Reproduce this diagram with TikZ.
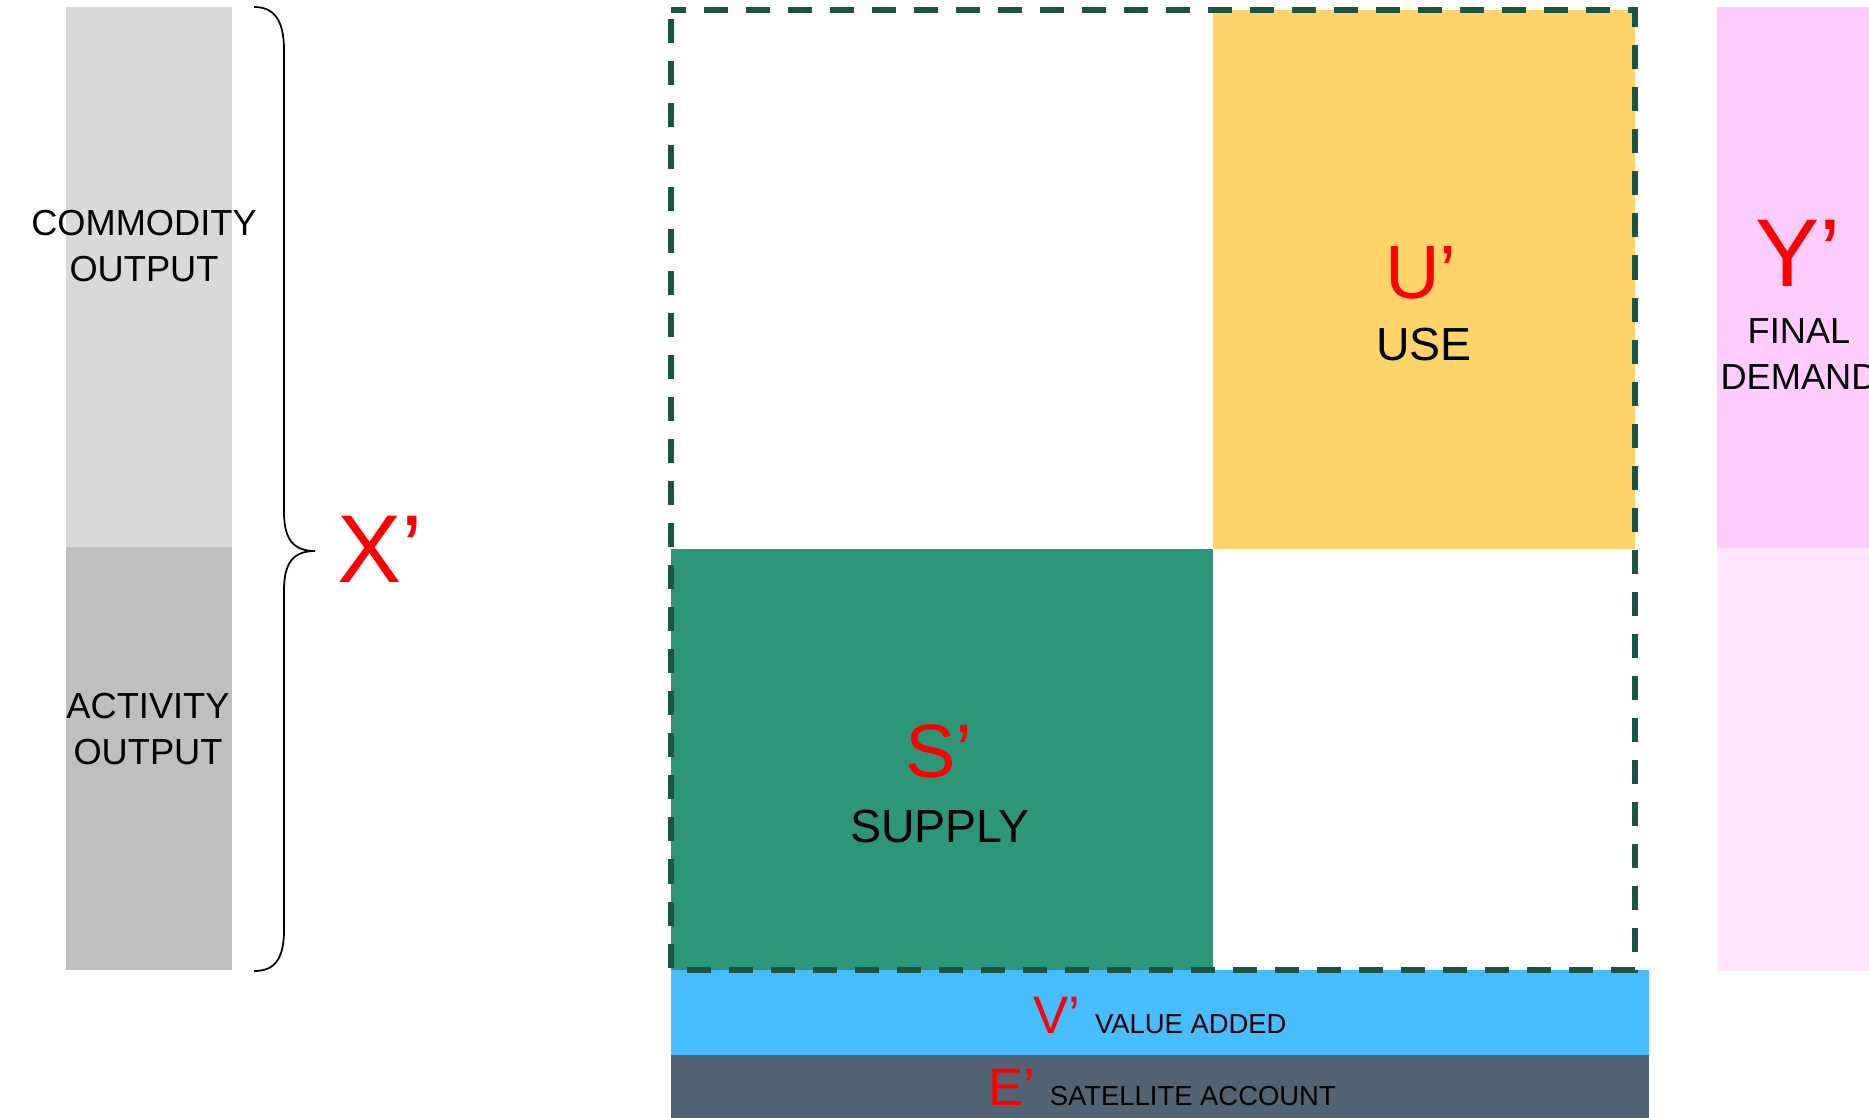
\documentclass[tikz,border=0pt]{standalone}
\usepackage{fontspec}
\setmainfont{Liberation Sans}
\definecolor{lgray}{RGB}{217,217,217}
\definecolor{dgray}{RGB}{191,191,191}
\definecolor{usegold}{RGB}{253,211,106}
\definecolor{supgreen}{RGB}{46,150,120}
\definecolor{vablue}{RGB}{72,189,254}
\definecolor{satslate}{RGB}{82,100,115}
\definecolor{fdpink}{RGB}{255,204,255}
\definecolor{fdpale}{RGB}{255,229,255}
\definecolor{boxgreen}{RGB}{26,84,67}
\newcommand{\rowname}{\color{black}\fontsize{7.8}{9}\selectfont}

\begin{document}
\begin{tikzpicture}[x=0.01cm,y=-0.01cm,
  lbl/.style={inner sep=0pt,anchor=base},
  bigsym/.style={lbl,text=red,font=\fontsize{27.4}{33}\selectfont},
  blocksym/.style={lbl,text=red,font=\fontsize{21.5}{26}\selectfont},
  blockname/.style={lbl,font=\fontsize{13.2}{16}\selectfont},
  sidename/.style={lbl,align=center,font=\fontsize{10.3}{12.8}\selectfont},
  rowsym/.style={lbl,text=red,font=\fontsize{15}{18}\selectfont},
  dashbox/.style={draw=boxgreen,line width=1.7pt,dash pattern=on 0.24cm off 0.18cm,dash phase=0.33cm}]
\useasboundingbox (0,0) rectangle (1869,1118);
\clip (0,0) rectangle (1869,1118);
\begin{scope}
  \fill[lgray] (66,7) rectangle (232,547);
  \fill[dgray] (66,547) rectangle (232,970);
  \node[sidename] (comm) at (144,281) {COMMODITY\\OUTPUT};
  \node[sidename] (act) at (148,764) {ACTIVITY\\OUTPUT};
  \draw[line width=0.5pt] (254,7) .. controls (274,7) and (284,20) .. (284,50) -- (284,512)
    .. controls (284,540) and (294,551) .. (315,551) .. controls (294,551) and (284,562) .. (284,590)
    -- (284,930) .. controls (284,960) and (274,971) .. (254,971);
  \node[bigsym] (xout) at (380,582) {X’};
\end{scope}
\begin{scope}
  \fill[usegold] (1213,10) rectangle (1635,549);
  \fill[supgreen] (671,549) rectangle (1213,970);
  \fill[vablue] (671,970) rectangle (1649,1055);
  \fill[satslate] (671,1055) rectangle (1649,1118);
  \draw[dashbox] (671,10) rectangle (1635,970);
  \node[blocksym] (usym) at (1421,298) {U’};
  \node[blockname] (uname) at (1424,360) {USE};
  \node[blocksym] (ssym) at (939,777) {S’};
  \node[blockname] (sname) at (940,842) {SUPPLY};
  \node[rowsym] (vrow) at (1160,1033) {V’ {\rowname VALUE ADDED}};
  \node[rowsym] (erow) at (1162,1105) {E’ {\rowname SATELLITE ACCOUNT}};
\end{scope}
\begin{scope}
  \fill[fdpink] (1717,7) rectangle (1869,548);
  \fill[fdpale] (1717,548) rectangle (1869,971);
  \node[bigsym] (ysym) at (1798,286) {Y’};
  \node[sidename] (fd) at (1799,389) {FINAL\\DEMAND};
\end{scope}
\end{tikzpicture}
\end{document}
